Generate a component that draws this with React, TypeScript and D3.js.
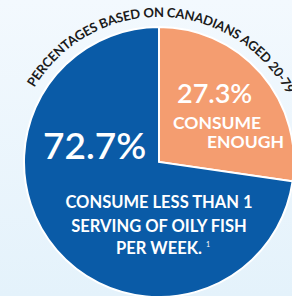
import React from 'react';
import * as d3 from "d3";

const categories = ["CONSUME ENOUGH", "CONSUME LESS THAN 1 SERVING OF OILY FISH PER WEEK."];
const shares = [27.3, 72.7];
const colors = ["#f49d70", "#0a5ba7"];
const arcTitle = "PERCENTAGES BASED ON CANADIANS AGED 20-79";

const width = 292, height = 296;
const cx = 159, cy = 162, radius = 135;

export default function App() {
  const pie = d3.pie<number>().sort(null).value(d => d);
  const arcs = pie(shares);
  const arcGen = d3.arc<d3.PieArcDatum<number>>().innerRadius(0).outerRadius(radius);

  // curved caption path above the pie
  const textR = 145;
  const p = d3.path();
  const a0 = -Math.PI / 2 - 1.25, a1 = -Math.PI / 2 + 1.25;
  p.arc(cx, cy, textR, a0, a1);

  const fmt = (v: number) => v.toFixed(1) + "%";

  return (
    <svg width={width} height={height} style={{ position: 'absolute', left: 0, top: 0 }}
      fontFamily="Lato, 'Open Sans', sans-serif">
      <defs>
        <linearGradient id="bg" x1="0" y1="0" x2="0" y2="1">
          <stop offset="0%" stopColor="#f3f9fe" />
          <stop offset="100%" stopColor="#e4f2fb" />
        </linearGradient>
        <path id="capArc" d={p.toString()} />
      </defs>
      <rect width={width} height={height} fill="url(#bg)" />
      <g transform={`translate(${cx},${cy})`}>
        {arcs.map((a, i) => (
          <path key={i} d={arcGen(a) || ""} fill={colors[i]} stroke="#fff" strokeWidth={2} />
        ))}
      </g>
      <text fontSize={13} fontWeight={700} fill="#1b1b1b" letterSpacing={-0.2}>
        <textPath href="#capArc" startOffset="51%" textAnchor="middle">{arcTitle}</textPath>
      </text>

      {/* orange slice labels */}
      <text x={177} y={103} fill="#fff" fontSize={27} fontWeight={600}>{fmt(shares[0])}</text>
      <text x={173} y={129} fill="#fff" fontSize={17.5} fontWeight={700}>{categories[0].split(" ")[0]}</text>
      <text x={207} y={148} fill="#fff" fontSize={17.5} fontWeight={700}>{categories[0].split(" ")[1]}</text>

      {/* blue slice labels */}
      <text x={43} y={159} fill="#fff" fontSize={37} fontWeight={600}>{fmt(shares[1])}</text>
      <g fill="#fff" fontSize={16.5} fontWeight={700} textAnchor="middle">
        <text x={159} y={208}>CONSUME LESS THAN 1</text>
        <text x={159} y={232}>SERVING OF OILY FISH</text>
        <text x={159} y={254}>PER WEEK.</text>
      </g>
      <text x={206} y={247} fill="#fff" fontSize={7}>1</text>
    </svg>
  );
}
